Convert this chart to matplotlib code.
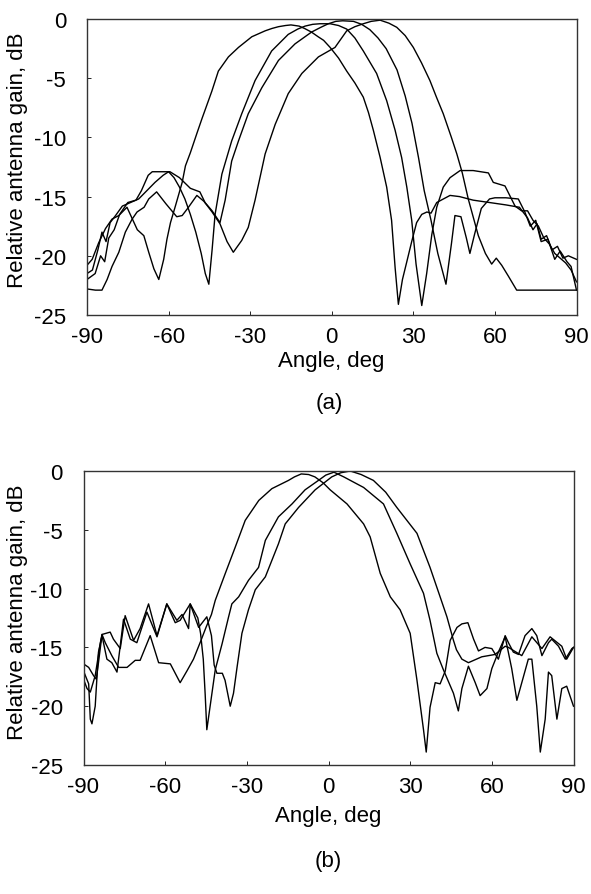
import matplotlib
matplotlib.use("Agg")
import matplotlib.pyplot as plt

plt.rcParams['font.family'] = ['Liberation Sans', 'DejaVu Sans']
plt.rcParams['axes.unicode_minus'] = False

# ---------------- (a) four beams ----------------
a1_ang = [-90, -88.1, -85.7, -83.2, -80.8, -78.3, -75.3, -73.5, -71.5, -69.1, -67.3, -65.4, -63.6, -61.8,
          -60.6, -59.3, -57.5, -55, -53.8, -52, -49.5, -47.7, -46.6, -44.1, -41.7, -38, -34.3, -29.4, -24.5,
          -22, -19.6, -17, -15, -12, -10, -7.5, -5, -3, -0.6, 2.5, 5.5, 8.5, 11.6, 13.5, 15.3, 17.8, 20.2,
          22, 23.3, 24.5, 26, 27.6, 29.4, 31.2, 33.1, 35, 36.5, 38.6, 43.5, 47, 52, 58, 64, 69, 72, 74,
          75.5, 77, 79, 81, 83, 85, 87, 90]
a1_db = [-20.8, -20.3, -18.9, -17.7, -16.9, -16.6, -15.9, -16.8, -17.8, -18.3, -19.7, -21.1, -22.0, -20.3,
         -18.6, -17.2, -15.8, -13.8, -12.4, -11.3, -9.6, -8.4, -7.7, -6.1, -4.4, -3.2, -2.4, -1.5, -1.0,
         -0.8, -0.65, -0.55, -0.5, -0.6, -0.8, -1.1, -1.5, -1.8, -2.4, -3.3, -4.4, -5.4, -6.6, -7.9, -9.4,
         -11.7, -14.2, -17.0, -21.0, -24.1, -22.0, -20.5, -18.8, -17.2, -16.5, -16.3, -16.4, -15.5, -14.9,
         -15.0, -15.3, -15.5, -15.7, -15.9, -16.8, -17.8, -17.3, -18.6, -18.3, -19.5, -19.2, -20.2, -20.0,
         -20.3]

a2_ang = [-90, -88, -86, -84.5, -83, -81.5, -79.5, -77, -74, -71, -68, -65, -62, -60, -58, -56, -54, -52,
          -50, -48, -46.5, -45.2, -44, -42.9, -40.4, -36.8, -33.1, -28.2, -22.1, -16, -12.5, -9.8, -7,
          -4.3, -0.6, 2.5, 5.5, 8.5, 11.6, 16.5, 20.2, 23.3, 25.7, 27.6, 29.4, 31, 33.1, 34.9, 36.8, 38.6,
          41, 43.5, 47.2, 52, 57.6, 59.4, 63.7, 67.4, 69.8, 72, 74, 76, 78, 80, 82, 84, 86, 88, 90]
a2_db = [-21.5, -21.2, -19.5, -18.0, -18.8, -17.2, -16.6, -15.8, -15.5, -15.2, -14.5, -13.8, -13.2, -12.9,
         -13.4, -14.2, -15.2, -16.5, -18.0, -19.8, -21.5, -22.4, -19.5, -16.5, -13.1, -10.3, -8.0, -5.2, -2.7,
         -1.3, -0.85, -0.6, -0.45, -0.4, -0.4, -0.55, -0.85, -1.6, -2.7, -4.6, -6.9, -9.4, -11.7, -14.2,
         -17.0, -20.7, -24.2, -21.5, -18.2, -15.9, -14.2, -13.4, -12.8, -12.8, -13.0, -13.8, -14.1, -15.8,
         -16.2, -16.2, -17.0, -17.5, -18.5, -19.0, -19.8, -20.2, -20.6, -21.2, -22.2]

a3_ang = [-90, -87, -85, -83.5, -82, -80, -78, -75, -72, -70, -67.5, -66, -59.5, -56, -52, -48.5, -46.6,
          -44, -41.1, -39.2, -36.8, -34.3, -30.7, -25.7, -19.6, -13.5, -7.4, -4, -1.25, 1.5, 4, 8, 11, 14,
          17, 20, 24, 27, 29.5, 31.9, 34, 36.5, 39, 42, 44, 45.3, 47.5, 49.5, 50.8, 52.5, 55, 58, 60, 64,
          68.6, 71, 73, 75, 77, 79.5, 82, 84, 86.5, 88, 90]
a3_db = [-22.0, -21.5, -20.0, -20.5, -18.5, -17.8, -16.5, -15.5, -15.3, -14.5, -13.2, -12.9, -12.9, -13.4,
         -14.3, -14.6, -15.5, -16.2, -17.2, -15.3, -12.0, -10.3, -8.0, -5.8, -3.5, -2.1, -1.1, -0.7, -0.4,
         -0.2, -0.15, -0.2, -0.45, -0.9, -1.6, -2.5, -4.3, -6.5, -8.8, -11.7, -14.5, -17.0, -19.8, -22.4,
         -19.0, -16.6, -16.7, -18.5, -19.8, -18.2, -16.0, -15.2, -15.1, -15.1, -15.2, -16.3, -17.5, -17.0,
         -18.8, -18.6, -20.3, -19.6, -20.5, -20.9, -22.9]

a4_ang = [-90, -86.9, -84.5, -82.6, -80.8, -78.3, -75.9, -73.4, -71.6, -69, -67.3, -64.4, -61, -57, -55,
          -53, -49.6, -47, -44, -41.1, -38.5, -36.2, -33.1, -30.7, -28.2, -24.5, -20.8, -16, -11, -4.9, 1.2,
          5.5, 8.5, 11.6, 14.5, 17.8, 21, 23.9, 27, 30, 33, 36.1, 38.5, 41, 44, 46, 48, 50.2, 53.9, 56.5,
          58.8, 60.5, 62.5, 64.9, 68, 90]
a4_db = [-22.8, -22.9, -22.9, -22.0, -20.9, -19.7, -18.0, -16.9, -16.3, -15.9, -15.2, -14.6, -15.6, -16.7,
         -16.6, -16.0, -14.9, -15.4, -16.3, -17.3, -18.8, -19.7, -18.7, -17.6, -15.3, -11.4, -8.9, -6.3,
         -4.6, -3.2, -2.4, -1.0, -0.65, -0.4, -0.2, -0.1, -0.35, -0.7, -1.4, -2.4, -3.7, -5.2, -6.6, -8.0,
         -10.0, -11.4, -13.0, -15.2, -18.3, -19.8, -20.7, -20.2, -20.8, -21.7, -22.9, -22.9]

# ---------------- (b) three beams ----------------
b1_ang = [-90, -88.1, -86.3, -85.3, -84.5, -83.2, -82, -79.6, -77.1, -74, -71, -69.2, -65.5, -62.4, -58.1,
          -54.5, -52, -49.6, -47, -45, -43, -41.6, -37.9, -34.3, -30.6, -25.6, -20.8, -14.7, -12.5, -10,
          -7.3, -5, -2, 0.6, 6.8, 12.9, 15.3, 19, 22.7, 26.3, 30, 32.5, 34.9, 35.9, 37.3, 39.2, 41, 42.9,
          44.7, 47.2, 49, 51.2, 53.3, 55.1, 57.5, 60, 62.4, 64.9, 66.1, 67.9, 69.8, 72.2, 74.7, 76.5, 78.4,
          80.8, 82, 84.5, 87, 89.4, 90]
b1_db = [-16.4, -16.7, -17.4, -17.7, -16.3, -13.9, -14.6, -15.7, -16.7, -16.7, -16.1, -16.1, -14.0, -16.3,
         -16.4, -18.0, -17.0, -16.0, -14.5, -13.3, -12.2, -11.0, -8.7, -6.5, -4.2, -2.5, -1.5, -0.8, -0.5,
         -0.25, -0.3, -0.5, -1.0, -1.6, -2.8, -4.5, -5.6, -8.7, -10.7, -11.8, -13.8, -17.8, -22.0, -23.9,
         -20.1, -18.0, -18.1, -17.0, -14.4, -13.3, -13.0, -12.9, -14.3, -15.3, -15.0, -15.1, -16.0, -14.0,
         -14.6, -15.4, -15.6, -14.0, -13.4, -14.0, -15.7, -14.6, -14.3, -14.9, -16.0, -15.1, -15.0]

b2_ang = [-90, -88.1, -87.5, -86.9, -85.7, -84.5, -83.2, -81.4, -79.6, -77.7, -75.3, -72.8, -70.4, -66.7,
          -63, -59.4, -56.3, -54.5, -50.8, -48, -47, -46, -45.3, -44.7, -41.6, -39.1, -36.7, -35.5, -33,
          -29.4, -25.7, -23.2, -18.4, -13.4, -8.6, -3.7, -1, 2, 5.6, 12.9, 20.2, 25.1, 30, 34.9, 37.3, 39.8,
          42.2, 45.9, 47.7, 49, 51.4, 53.9, 55.7, 58.2, 60, 62.4, 64.9, 67.3, 69.2, 71, 73.4, 74.7, 76.5,
          77.8, 79.6, 80.8, 82, 83.9, 85.7, 87.5, 90]
b2_db = [-17.0, -18.1, -21.1, -21.5, -20.0, -15.4, -14.0, -16.0, -16.3, -17.1, -12.6, -14.3, -14.6, -12.0,
         -14.1, -11.3, -12.9, -12.7, -11.3, -12.5, -13.8, -16.0, -19.0, -22.0, -16.9, -14.7, -12.4, -11.3,
         -10.7, -9.3, -8.2, -5.9, -3.9, -2.8, -1.6, -0.8, -0.35, -0.1, -0.5, -1.4, -2.8, -5.3, -7.9, -10.4,
         -12.7, -15.5, -16.9, -18.9, -20.4, -18.5, -16.6, -18.0, -19.1, -18.5, -16.8, -15.4, -14.1, -16.8,
         -19.5, -18.0, -16.0, -16.0, -20.0, -23.9, -21.1, -17.1, -17.4, -21.1, -18.5, -18.3, -20.0]

b3_ang = [-90, -88.7, -87.5, -85.7, -83.8, -83.2, -80.2, -79, -76.5, -74.7, -71.6, -69.2, -66.1, -63, -59.4,
          -55.7, -53.8, -51.4, -50.8, -47.7, -44.7, -43, -42, -41, -39, -38, -36.1, -34.9, -33.6, -31.8,
          -29.4, -26.9, -23.2, -20.8, -18.4, -15.9, -11, -4.9, 1.2, 4.5, 8, 12, 16.5, 21, 25.1, 32.5, 37.3,
          41, 43.5, 45.9, 47, 49, 51.4, 56.3, 61.2, 64.9, 66.1, 71, 74.7, 78.4, 81.4, 85.7, 87.5, 90]
b3_db = [-17.7, -18.5, -18.8, -17.4, -14.6, -13.9, -13.7, -14.3, -15.1, -12.3, -14.4, -13.4, -11.3, -14.0,
         -11.3, -12.7, -12.2, -13.4, -11.3, -13.3, -12.4, -14.0, -16.5, -17.2, -17.2, -17.8, -20.0, -18.9,
         -16.7, -13.8, -11.8, -10.1, -9.0, -7.6, -6.2, -4.5, -3.1, -1.6, -0.5, -0.15, 0.0, -0.3, -0.8, -1.8,
         -3.1, -5.3, -8.2, -10.7, -12.4, -14.4, -15.2, -16.0, -16.3, -15.8, -15.6, -14.9, -15.0, -15.7,
         -14.1, -15.1, -14.1, -14.9, -16.0, -15.0]

xticks = [-90, -60, -30, 0, 30, 60, 90]
yticks = [0, -5, -10, -15, -20, -25]

W, H = 591, 895
fig = plt.figure(figsize=(W / 100, H / 100), dpi=100)

def make_axes(l, r, t, b):
    return fig.add_axes([l / W, 1 - b / H, (r - l) / W, (b - t) / H])

ax1 = make_axes(87, 576.5, 20, 316)
ax2 = make_axes(83.5, 573.5, 472, 766)

for ax, curves in ((ax1, [(a1_ang, a1_db), (a2_ang, a2_db), (a3_ang, a3_db), (a4_ang, a4_db)]),
                   (ax2, [(b1_ang, b1_db), (b2_ang, b2_db), (b3_ang, b3_db)])):
    for xs, ys in curves:
        ax.plot(xs, ys, color='black', lw=1.0, solid_joinstyle='round')
    ax.set_xlim(-90, 90)
    ax.set_ylim(-25, 0)
    ax.set_xticks(xticks)
    ax.set_yticks(yticks)
    ax.set_xticklabels([str(v) for v in xticks])
    ax.set_yticklabels([str(v) for v in yticks])
    ax.tick_params(direction='in', length=3, width=0.6, labelsize=16, colors='black')
    ax.tick_params(axis='y', pad=15)
    ax.tick_params(axis='x', pad=8)
    for s in ax.spines.values():
        s.set_linewidth(1.0)
        s.set_color('#333333')

fs = 16
fig.text(331 / W, 1 - 362 / H, 'Angle, deg', ha='center', va='center', fontsize=fs)
fig.text(329 / W, 1 - 404 / H, '(a)', ha='center', va='center', fontsize=fs)
fig.text(18 / W, 1 - 160 / H, 'Relative antenna gain, dB', ha='center', va='center', rotation=90, fontsize=fs)
fig.text(328 / W, 1 - 817 / H, 'Angle, deg', ha='center', va='center', fontsize=fs)
fig.text(328 / W, 1 - 862 / H, '(b)', ha='center', va='center', fontsize=fs)
fig.text(18 / W, 1 - 612 / H, 'Relative antenna gain, dB', ha='center', va='center', rotation=90, fontsize=fs)

fig.savefig('out.png', dpi=100)
